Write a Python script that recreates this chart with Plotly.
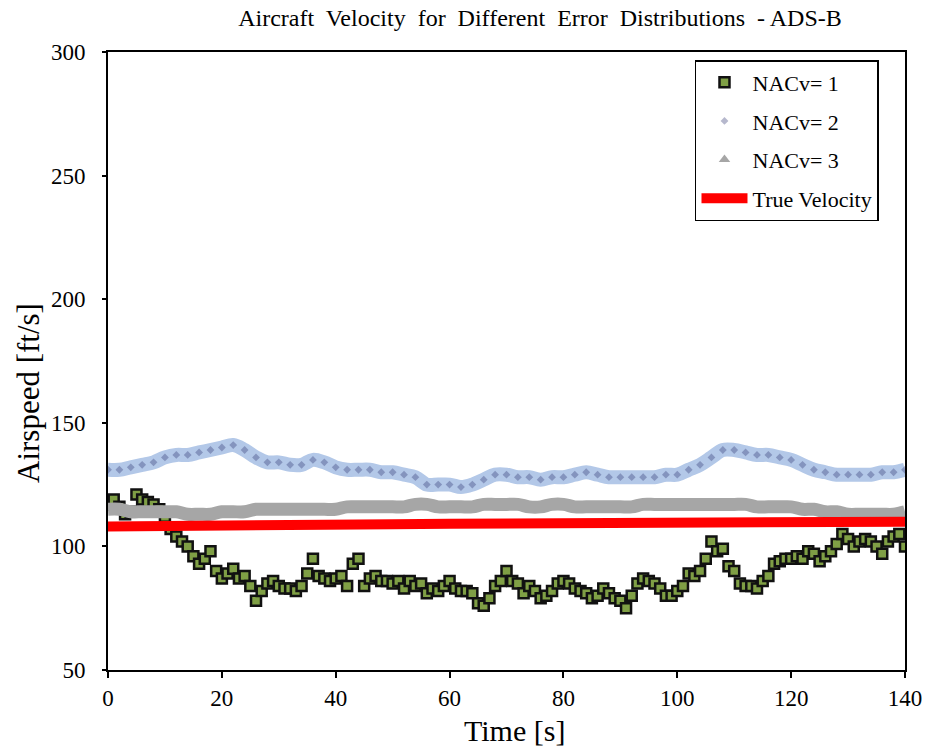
import plotly.graph_objects as go

# ---------------- data ----------------
t_nac1 = list(range(0, 141))
v_nac1 = [117, 119, 116, 113, 114, 121, 119, 118, 117, 115,
          112, 107, 104, 102, 100, 96, 93, 95, 98, 90,
          87, 89, 91, 87, 88, 84, 78, 82, 85, 86,
          84, 83, 83, 82, 84, 89, 95, 88, 87, 86,
          87, 88, 84, 93, 95, 84, 87, 88, 86, 86,
          85, 86, 83, 86, 84, 85, 81, 83, 82, 84,
          86, 83, 82, 82, 81, 77, 76, 79, 84, 86,
          90, 86, 85, 81, 84, 82, 79, 80, 82, 85,
          86, 85, 83, 82, 81, 79, 80, 83, 81, 79,
          78, 75, 80, 85, 87, 86, 85, 83, 80, 80,
          82, 84, 89, 88, 90, 95, 102, 98, 99, 92,
          90, 85, 84, 84, 83, 86, 88, 93, 94, 95,
          95, 96, 95, 98, 97, 94, 96, 98, 101, 105,
          103, 100, 102, 103, 102, 100, 97, 102, 104, 105,
          100]

t_nac2 = list(range(0, 141, 2))
v_nac2 = [131, 131, 132, 133, 134, 136, 137, 137, 138, 139,
          140, 141, 139, 136, 134, 134, 133, 133, 135, 134,
          132, 131, 131, 131, 130, 130, 129, 128, 125, 125,
          125, 124, 125, 127, 129, 129, 128, 128, 127, 128,
          128, 129, 130, 129, 128, 128, 128, 128, 128, 129,
          129, 131, 133, 136, 139, 139, 138, 137, 137, 136,
          135, 133, 131, 130, 129, 129, 129, 129, 130, 130,
          131]

t_nac3 = list(range(0, 141, 2))
v_nac3 = [115, 115, 114, 114, 114, 114, 114, 113, 113, 113,
          114, 114, 114, 115, 115, 115, 115, 115, 115, 115,
          115, 116, 116, 116, 116, 116, 116, 117, 117, 116,
          116, 116, 116, 117, 117, 117, 117, 116, 116, 117,
          117, 116, 116, 116, 116, 116, 116, 117, 117, 117,
          117, 117, 117, 117, 117, 117, 117, 116, 116, 116,
          116, 115, 115, 114, 114, 113, 113, 113, 113, 113,
          114]

t_true = list(range(0, 141, 10))
v_true = [108, 108, 108, 108.3, 108.8, 109, 109.2, 109.3, 109.4, 109.4,
          109.5, 109.5, 109.5, 109.6, 110]

x_ticks = [0, 20, 40, 60, 80, 100, 120, 140]
y_ticks = [50, 100, 150, 200, 250, 300]

FONT = "Liberation Serif"
W, H = 925, 748
ML, MR, MT, MB = 108, 20, 52, 78

fig = go.Figure()

fig.add_trace(go.Scatter(
    x=t_nac1, y=v_nac1, mode="markers", name="NACv= 1",
    legendgroup="g1",
    marker=dict(symbol="square", size=10, color="#7f9f45",
                line=dict(color="#111111", width=2.5))))

fig.add_trace(go.Scatter(
    x=t_nac2, y=v_nac2, mode="lines", showlegend=False,
    line=dict(color="#b3c8e8", width=14, shape="spline"),
    hoverinfo="skip"))
fig.add_trace(go.Scatter(
    x=t_nac2, y=v_nac2, mode="markers", name="NACv= 2",
    legendgroup="g2",
    marker=dict(symbol="diamond", size=6, color="#2f3570", opacity=0.35)))

fig.add_trace(go.Scatter(
    x=t_nac3, y=v_nac3, mode="lines", showlegend=False,
    line=dict(color="#a6a6a6", width=13, shape="spline"),
    hoverinfo="skip"))
fig.add_trace(go.Scatter(
    x=[None], y=[None], mode="markers", name="NACv= 3",
    legendgroup="g3",
    marker=dict(symbol="triangle-up", size=10, color="#a6a6a6")))

fig.add_trace(go.Scatter(
    x=t_true, y=v_true, mode="lines", name="True Velocity",
    legendgroup="g4",
    line=dict(color="#ff0000", width=10)))

fig.update_layout(
    width=W, height=H,
    margin=dict(l=ML, r=MR, t=MT, b=MB, autoexpand=False),
    paper_bgcolor="white", plot_bgcolor="white",
    font=dict(family=FONT, size=22, color="black"),
    title=dict(text="Aircraft  Velocity  for  Different  Error  Distributions  - ADS-B",
               x=0.542, xref="paper", xanchor="center",
               y=0.976, yref="container", yanchor="middle",
               font=dict(family=FONT, size=24, color="black")),
    legend=dict(x=0.7365, y=0.987, xanchor="left", yanchor="top",
                bordercolor="black", borderwidth=1.5, bgcolor="white",
                font=dict(family=FONT, size=22, color="black"),
                tracegroupgap=7, itemwidth=46),
    showlegend=True,
    annotations=[
        dict(text="Time [s]", xref="paper", yref="paper",
             x=(514 - ML) / (W - ML - MR), y=-(730 - (H - MB)) / (H - MT - MB),
             xanchor="center", yanchor="middle", showarrow=False,
             font=dict(family=FONT, size=30, color="black")),
        dict(text="Airspeed [ft/s]", xref="paper", yref="paper", textangle=-90,
             x=-(ML - 28) / (W - ML - MR), y=((H - MB) - 393) / (H - MT - MB),
             xanchor="center", yanchor="middle", showarrow=False,
             font=dict(family=FONT, size=31, color="black")),
    ],
)

fig.update_xaxes(
    range=[0, 140], tickvals=x_ticks, ticktext=[str(v) for v in x_ticks],
    showgrid=False, zeroline=False, automargin=False,
    showline=True, linecolor="black", linewidth=2, mirror=True,
    ticks="outside", ticklen=6, tickwidth=1.5, tickcolor="black",
    tickfont=dict(family=FONT, size=23, color="black"))

fig.update_yaxes(
    range=[50, 300], tickvals=y_ticks, ticktext=[str(v) for v in y_ticks],
    showgrid=False, zeroline=False, automargin=False,
    showline=True, linecolor="black", linewidth=2, mirror=True,
    ticks="outside", ticklen=4, tickwidth=1.5, tickcolor="black",
    ticklabelstandoff=12,
    tickfont=dict(family=FONT, size=23, color="black"))

fig.write_html("out.html")
